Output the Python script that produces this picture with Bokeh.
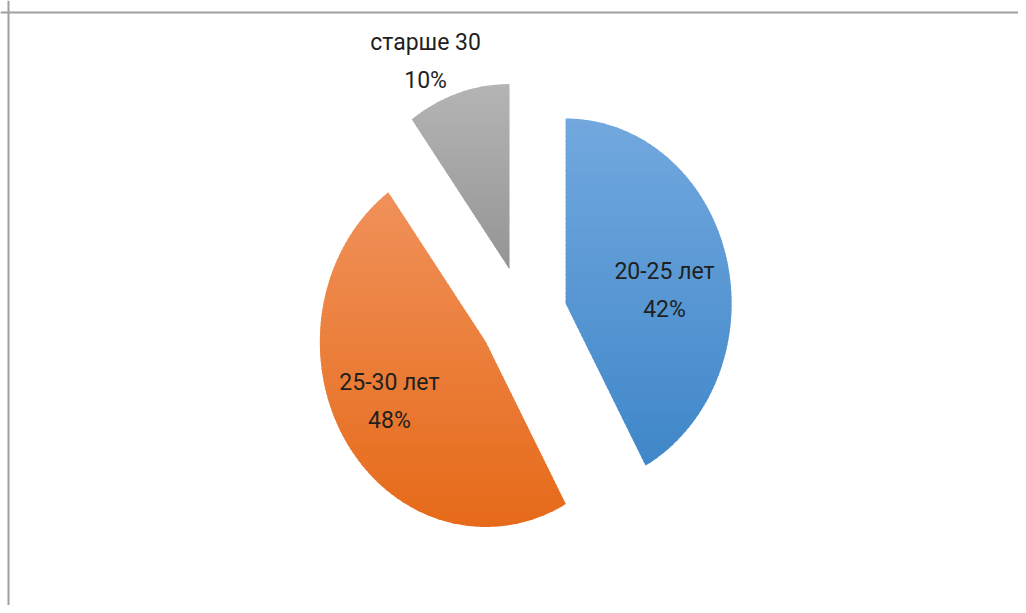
import numpy as np
from bokeh.plotting import figure
from bokeh.models import Range1d, Span
from bokeh.core.properties import value
from bokeh.embed import file_html
from bokeh.resources import INLINE

# ---- data ----
categories = ["20-25 лет", "25-30 лет", "старше 30"]
values = [42, 48, 10]

# ---- styles ----
top_colors = ["#72a8de", "#f0915a", "#b4b4b4"]
bottom_colors = ["#3f87c9", "#e66a19", "#959595"]
label_r = [0.60, 0.665, 1.232]        # label distance from slice apex (radius units)
label_da = [7.6, 3.3, -6.2]           # label angle tweak from slice bisector (deg)

W, H = 1018, 605
RX, RY = 166.0, 185.0                 # pixels per radius unit (pie is elliptical)
CX_PAGE, CY_PAGE = 522.5, 315.2
EXPLODE = 0.265


def X(px):
    return (px - CX_PAGE) / RX


def Y(py):
    return (CY_PAGE - py) / RY


def hex2rgb(h):
    h = h.lstrip("#")
    return np.array([int(h[i:i + 2], 16) for i in (0, 2, 4)], dtype=float)


def lerp_col(c0, c1, t):
    a, b = hex2rgb(c0), hex2rgb(c1)
    c = a + (b - a) * t
    return "#%02x%02x%02x" % tuple(int(round(v)) for v in c)


def clip_half(poly, y0, keep_above):
    out = []
    n = len(poly)
    for i in range(n):
        p, q = poly[i], poly[(i + 1) % n]
        ip = (p[1] >= y0) if keep_above else (p[1] <= y0)
        iq = (q[1] >= y0) if keep_above else (q[1] <= y0)
        if ip:
            out.append(p)
        if ip != iq:
            t = (y0 - p[1]) / (q[1] - p[1])
            out.append((p[0] + t * (q[0] - p[0]), y0))
    return out


p = figure(width=W, height=H, output_backend="svg", toolbar_location=None,
           x_range=Range1d(X(0), X(W)), y_range=Range1d(Y(H), Y(0)),
           min_border=0)
p.axis.visible = False
p.grid.visible = False
p.outline_line_color = None
p.background_fill_color = "white"
p.border_fill_color = "white"

# chart-area border (top and left visible)
p.add_layout(Span(location=Y(12), dimension="width", line_color="#a0a0a0", line_width=2))
p.add_layout(Span(location=X(8), dimension="height", line_color="#a0a0a0", line_width=2))

total = float(sum(values))
bxs, bys, bcols = [], [], []
lx, ly, ltext = [], [], []
start = 0.0
N = 80
overlap = 1.2 / RY
for i, v in enumerate(values):
    span = 360.0 * v / total
    a0, a1 = start, start + span
    mid = np.radians((a0 + a1) / 2)
    ox, oy = EXPLODE * np.sin(mid), EXPLODE * np.cos(mid)
    angs = np.radians(np.linspace(a0, a1, int(span * 2) + 2))
    poly = [(ox, oy)] + [(ox + np.sin(a), oy + np.cos(a)) for a in angs]
    ys_all = [q[1] for q in poly]
    ymax, ymin = max(ys_all), min(ys_all)
    edges = np.linspace(ymax, ymin, N + 1)
    for k in range(N):
        top = edges[k]
        bot = edges[k + 1] - (overlap if k < N - 1 else 0)
        sub = clip_half(clip_half(poly, bot, True), top, False)
        if len(sub) >= 3:
            bxs.append([q[0] for q in sub])
            bys.append([q[1] for q in sub])
            bcols.append(lerp_col(top_colors[i], bottom_colors[i], (k + 0.5) / N))
    la = mid + np.radians(label_da[i])
    lx.append(ox + label_r[i] * np.sin(la))
    ly.append(oy + label_r[i] * np.cos(la))
    ltext.append(f"{categories[i]}\n{v}%")
    start = a1

p.patches(bxs, bys, fill_color=bcols, line_color=None)
p.text(x=lx, y=ly, text=ltext, text_align="center", text_baseline="middle",
       text_font=value("Roboto"), text_font_size="23px", text_color="#1f1f1f",
       text_line_height=1.4)

open("out.html", "w").write(file_html(p, INLINE))
